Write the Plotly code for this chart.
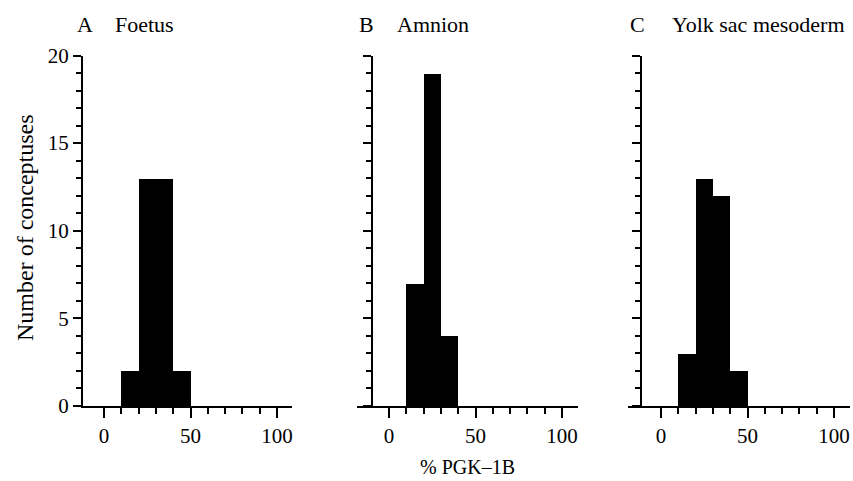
import plotly.graph_objects as go

# % PGK-1B bins (centres of 10% wide classes) and number of conceptuses per bin
bin_centres = [5, 15, 25, 35, 45, 55, 65, 75, 85, 95]
foetus = [0, 2, 13, 13, 2, 0, 0, 0, 0, 0]
amnion = [0, 7, 19, 4, 0, 0, 0, 0, 0, 0]
yolk_sac = [0, 3, 13, 12, 2, 0, 0, 0, 0, 0]

panel_letters = ["A", "B", "C"]
panel_names = ["Foetus", "Amnion", "Yolk sac mesoderm"]

W, H = 853, 481
FONT = "Liberation Serif"


def fx(px):
    return px / W


def fy(py):
    return 1 - py / H


fig = go.Figure()

series = [foetus, amnion, yolk_sac]
for i, vals in enumerate(series):
    suf = "" if i == 0 else str(i + 1)
    fig.add_trace(go.Bar(x=bin_centres, y=vals, width=[10] * len(vals),
                         marker=dict(color="black", line=dict(width=0)),
                         xaxis="x" + suf, yaxis="y" + suf, showlegend=False))

# panel geometry in pixels: x-axis start, x-axis end, y-axis position, position of x=0
panels = [(83, 292, 83, 104), (357, 578, 372, 389), (628, 850, 641, 661)]
pxu = 1.73
ydom = [fy(406), fy(55.5)]

layout = dict(width=W, height=H, margin=dict(l=0, r=0, t=0, b=0),
              plot_bgcolor="white", paper_bgcolor="white", bargap=0,
              font=dict(family=FONT, size=21, color="black"))

for i, (x0, x1, ypos, zero) in enumerate(panels):
    suf = "" if i == 0 else str(i + 1)
    xr = [(x0 - zero) / pxu, (x1 - zero) / pxu]
    layout["xaxis" + suf] = dict(
        domain=[fx(x0), fx(x1)], range=xr, anchor="y" + suf,
        showline=True, linecolor="black", linewidth=2, showgrid=False, zeroline=False,
        ticks="outside", tickcolor="black", tickwidth=2, ticklen=10,
        tickmode="array", tickvals=[0, 50, 100], automargin=False,
        tickfont=dict(family=FONT, size=21, color="black"),
        minor=dict(tickmode="array", tickvals=[10, 20, 30, 40, 60, 70, 80, 90],
                   ticks="outside", ticklen=6, tickwidth=2, tickcolor="black"),
        fixedrange=True)
    ya = dict(
        domain=ydom, range=[0, 20],
        showline=True, linecolor="black", linewidth=2, showgrid=False, zeroline=False,
        ticks="outside", tickcolor="black", tickwidth=2, ticklen=8,
        tickmode="array", tickvals=[0, 5, 10, 15, 20], automargin=False,
        showticklabels=(i == 0),
        tickfont=dict(family=FONT, size=21, color="black"),
        minor=dict(tickmode="array", tickvals=[v for v in range(1, 20) if v % 5],
                   ticks="outside", ticklen=5, tickwidth=2, tickcolor="black"),
        fixedrange=True)
    if i == 0:
        ya["anchor"] = "x"
    else:
        ya["anchor"] = "free"
        ya["position"] = fx(ypos)
    layout["yaxis" + suf] = ya

fig.update_layout(**layout)

# panel titles
letter_x = [75, 357, 628]
name_x = [113, 395, 670]
for lx, nx, letter, name in zip(letter_x, name_x, panel_letters, panel_names):
    fig.add_annotation(x=fx(lx), y=fy(25), xref="paper", yref="paper", text=letter,
                       showarrow=False, xanchor="left", yanchor="middle",
                       font=dict(family=FONT, size=22, color="black"))
    fig.add_annotation(x=fx(nx), y=fy(25), xref="paper", yref="paper", text=name,
                       showarrow=False, xanchor="left", yanchor="middle",
                       font=dict(family=FONT, size=22, color="black"))

# axis titles
fig.add_annotation(x=fx(25), y=fy(228), xref="paper", yref="paper",
                   text="Number of conceptuses", textangle=-90, showarrow=False,
                   xanchor="center", yanchor="middle",
                   font=dict(family=FONT, size=24, color="black"))
fig.add_annotation(x=fx(468), y=fy(467), xref="paper", yref="paper",
                   text="% PGK\u20131B", showarrow=False,
                   xanchor="center", yanchor="middle",
                   font=dict(family=FONT, size=20, color="black"))

fig.write_html("out.html", config={"displayModeBar": False},
               post_script="document.body.style.margin='0';")
